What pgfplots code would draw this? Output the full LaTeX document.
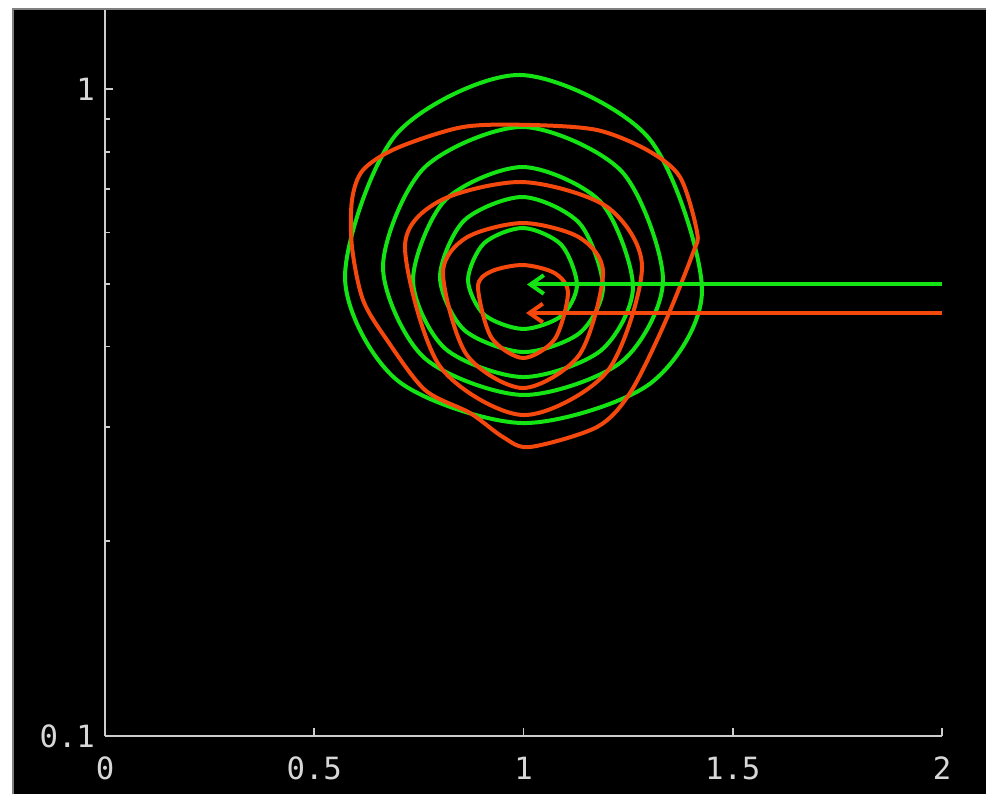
\documentclass[border=0pt]{standalone}
\usepackage{fontspec}
\setmonofont{DejaVu Sans Mono}
\usepackage{pgfplots}
\pgfplotsset{compat=1.18}
\usetikzlibrary{arrows.meta}
\definecolor{gline}{RGB}{20,228,20}
\definecolor{oline}{RGB}{245,72,12}
\definecolor{axgray}{RGB}{205,205,205}
\definecolor{labgray}{RGB}{215,215,215}
\begin{document}
\begin{tikzpicture}
\useasboundingbox (0,0) rectangle (739.5pt,595.5pt);
\fill[white] (0,0) rectangle (739.5pt,595.5pt);
\fill[black] (9.75pt,0) rectangle (739.5pt,588.75pt);
\draw[gray, line width=1pt] (9.75pt,0) -- (9.75pt,588.75pt) -- (739.5pt,588.75pt);
\begin{axis}[
  at={(78.75pt,43.5pt)}, anchor=south west,
  scale only axis, width=627.75pt, height=544.5pt,
  xmin=0, xmax=2, ymin=0.1, ymax=1.3246, ymode=log,
  axis x line=bottom, axis y line=left,
  axis line style={draw=axgray, line width=1.8pt, -},
  clip=false,
  xtick={0,0.5,1,1.5,2}, xticklabels={0,0.5,1,1.5,2},
  ytick={0.1,1}, yticklabels={0.1,1},
  minor ytick={0.2,0.3,0.4,0.5,0.6,0.7,0.8,0.9},
  tick align=inside,
  major tick length=6pt, minor tick length=4pt,
  tick style={draw=axgray, line width=1.4pt},
  tick label style={font=\fontsize{23}{25}\selectfont\ttfamily, text=labgray},
  xticklabel style={yshift=-12pt},
  yticklabel style={xshift=-4pt},
]
% green rings
\addplot[gline, line width=3pt, smooth cycle] coordinates {(1.4265,0.4890) (1.2992,0.8400) (0.9916,1.0511) (0.6961,0.8514) (0.5735,0.5122) (0.6980,0.3548) (0.9988,0.3046) (1.3013,0.3500)};
\addplot[gline, line width=3pt, smooth cycle] coordinates {(1.3333,0.5068) (1.2354,0.7448) (0.9988,0.8735) (0.7622,0.7549) (0.6643,0.5308) (0.7622,0.3846) (0.9988,0.3366) (1.2354,0.3794)};
\addplot[gline, line width=3pt, smooth cycle] coordinates {(1.2616,0.4943) (1.1847,0.6686) (0.9988,0.7576) (0.8129,0.6734) (0.7360,0.5068) (0.8129,0.3970) (0.9988,0.3588) (1.1847,0.3942)};
\addplot[gline, line width=3pt, smooth cycle] coordinates {(1.1900,0.4943) (1.1341,0.6198) (0.9988,0.6809) (0.8585,0.6265) (0.8005,0.5122) (0.8585,0.4241) (0.9988,0.3922) (1.1341,0.4196)};
\addplot[gline, line width=3pt, smooth cycle] coordinates {(1.1278,0.4978) (1.0901,0.5746) (0.9988,0.6098) (0.9059,0.5777) (0.8674,0.5068) (0.9059,0.4480) (0.9988,0.4257) (1.0901,0.4457)};
% orange rings
\addplot[oline, line width=3pt, smooth cycle] coordinates {(1.4146,0.6012) (1.3740,0.7311) (1.2951,0.8049) (1.1756,0.8642) (1.0155,0.8798) (0.8554,0.8735) (0.6977,0.8106) (0.6165,0.7496) (0.5902,0.6737) (0.5902,0.5699) (0.6165,0.4719) (0.6738,0.4093) (0.7646,0.3426) (0.8722,0.3157) (0.9510,0.2898) (1.0155,0.2797) (1.1756,0.3003) (1.2545,0.3390) (1.3333,0.4287) (1.4050,0.5579)};
\addplot[oline, line width=3pt, smooth cycle] coordinates {(1.2832,0.5308) (1.1998,0.6573) (0.9988,0.7182) (0.7995,0.6713) (0.7168,0.5699) (0.7995,0.3734) (0.9988,0.3134) (1.1998,0.3658)};
\addplot[oline, line width=3pt, smooth cycle] coordinates {(1.1900,0.5195) (1.1341,0.5893) (0.9988,0.6207) (0.8636,0.5893) (0.8076,0.5195) (0.8636,0.3890) (0.9988,0.3450) (1.1341,0.3890)};
\addplot[oline, line width=3pt, smooth cycle] coordinates {(1.1063,0.4838) (1.0748,0.5192) (0.9988,0.5345) (0.9228,0.5225) (0.8913,0.4943) (0.9228,0.4134) (0.9988,0.3839) (1.0748,0.4108)};
% arrows
\addplot[gline, line width=3pt, -{Straight Barb[length=10pt,width=14pt]}] coordinates {(2,0.4987) (1.0084,0.4987)};
\addplot[oline, line width=3pt, -{Straight Barb[length=10pt,width=14pt]}] coordinates {(2,0.4506) (1.0060,0.4506)};
\end{axis}
\end{tikzpicture}
\end{document}
